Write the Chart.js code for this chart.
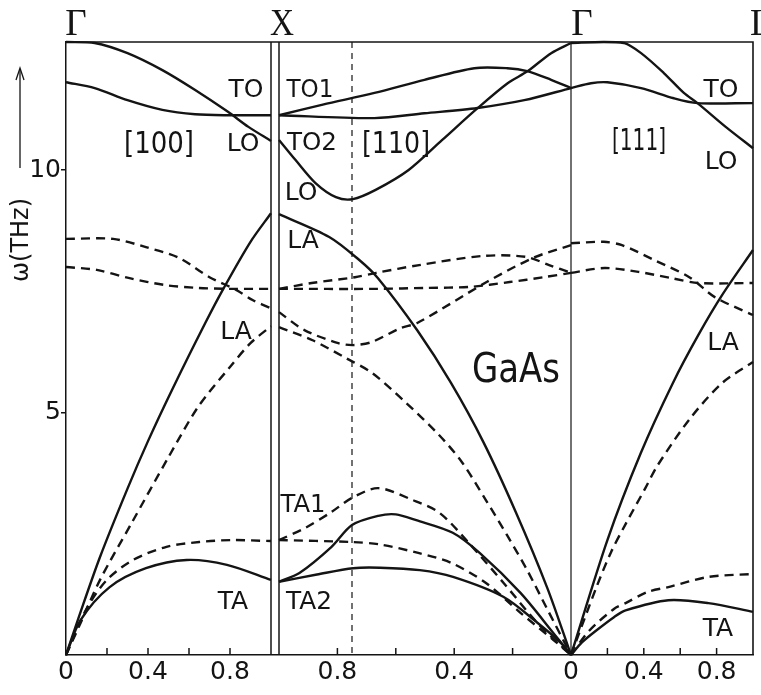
<!DOCTYPE html>
<html>
<head>
<meta charset="utf-8">
<title>GaAs phonon dispersion</title>
<script src="https://cdn.jsdelivr.net/npm/chart.js@4.4.1/dist/chart.umd.min.js"></script>
<style>
  html, body { margin: 0; padding: 0; background: #fff; }
  #wrap { width: 761px; height: 695px; }
</style>
</head>
<body>
<div id="wrap"><canvas id="chart" width="761" height="695"></canvas></div>
<script>
// branches, each point is [zeta, omega in THz]
// solid = one model, dashed = the other

// [100]  Gamma -> X
const g100_LO  = [[0,12.64],[0.14,12.62],[0.30,12.41],[0.47,12.06],[0.63,11.65],[0.79,11.20],[0.89,10.89],[1.0,10.6]];
const g100_TO  = [[0,11.81],[0.14,11.69],[0.30,11.44],[0.47,11.24],[0.63,11.15],[0.79,11.13],[1.0,11.13]];
const g100_LA  = [[0,0],[0.06,0.75],[0.165,2.01],[0.3,3.43],[0.4,4.41],[0.52,5.49],[0.68,6.85],[0.77,7.57],[0.9,8.52],[1.0,9.11]];
const g100_TA  = [[0,0],[0.071,0.72],[0.213,1.40],[0.39,1.79],[0.589,1.96],[0.785,1.86],[1.0,1.55]];
const g100_LOd = [[0,8.58],[0.23,8.58],[0.39,8.41],[0.55,8.19],[0.70,7.79],[0.83,7.53],[0.91,7.32],[1.0,7.15]];
const g100_TOd = [[0,8.0],[0.15,7.94],[0.31,7.77],[0.48,7.63],[0.64,7.57],[0.80,7.55],[1.0,7.55]];
const g100_LAd = [[0,0],[0.07,0.65],[0.166,1.55],[0.32,2.72],[0.5,4.08],[0.645,5.12],[0.80,5.94],[0.90,6.43],[1.0,6.78]];
const g100_TAd = [[0,0],[0.1,0.95],[0.2,1.55],[0.327,1.96],[0.49,2.23],[0.65,2.33],[0.81,2.37],[1.0,2.35]];

// [110]  X -> K -> Gamma (zeta runs from 1 down to 0)
const g110_TO1  = [[1.0,11.13],[0.85,11.35],[0.673,11.59],[0.502,11.86],[0.331,12.10],[0.218,12.10],[0.150,12.04],[0.068,11.86],[0,11.69]];
const g110_TO2  = [[1.0,11.13],[0.673,11.07],[0.502,11.17],[0.32,11.28],[0.16,11.44],[0,11.69]];
const g110_LO   = [[1.0,10.62],[0.944,10.21],[0.875,9.73],[0.805,9.44],[0.747,9.40],[0.669,9.59],[0.556,10.0],[0.441,10.62],[0.319,11.28],[0.217,11.79],[0.148,12.04],[0.068,12.41],[0,12.62]];
const g110_LA   = [[1.0,9.09],[0.828,8.62],[0.728,8.16],[0.661,7.77],[0.526,6.69],[0.411,5.61],[0.30,4.39],[0.19,2.96],[0.081,1.38],[0,0]];
const g110_TA1  = [[1.0,1.51],[0.93,1.69],[0.82,2.23],[0.75,2.68],[0.66,2.87],[0.6,2.9],[0.53,2.78],[0.405,2.52],[0.312,2.10],[0.173,1.28],[0.06,0.45],[0,0]];
const g110_TA2  = [[1.0,1.51],[0.87,1.66],[0.746,1.79],[0.654,1.80],[0.518,1.75],[0.404,1.61],[0.232,1.20],[0.114,0.66],[0.035,0.25],[0,0]];
const g110_TO1d = [[1.0,7.55],[0.888,7.67],[0.74,7.79],[0.667,7.88],[0.52,8.04],[0.30,8.23],[0.155,8.21],[0.075,8.04],[0,7.88]];
const g110_TO2d = [[1.0,7.55],[0.665,7.55],[0.494,7.57],[0.347,7.59],[0.21,7.69],[0.094,7.79],[0,7.88]];
const g110_LOd  = [[1.0,7.07],[0.913,6.70],[0.797,6.43],[0.746,6.39],[0.684,6.45],[0.584,6.74],[0.525,6.85],[0.289,7.69],[0.129,8.19],[0,8.45]];
const g110_LAd  = [[1.0,6.76],[0.885,6.49],[0.77,6.12],[0.68,5.81],[0.565,5.2],[0.454,4.55],[0.374,3.98],[0.29,3.18],[0.22,2.48],[0.151,1.76],[0.08,0.93],[0,0]];
const g110_TA1d = [[1.0,2.37],[0.91,2.62],[0.82,2.95],[0.75,3.24],[0.66,3.44],[0.544,3.2],[0.45,2.93],[0.35,2.31],[0.23,1.48],[0.115,0.66],[0,0]];
const g110_TA2d = [[1.0,2.37],[0.75,2.33],[0.655,2.28],[0.52,2.10],[0.41,1.90],[0.29,1.48],[0.173,0.87],[0.06,0.31],[0,0]];

// [111]  Gamma -> L
const g111_LO  = [[0,12.62],[0.18,12.64],[0.29,12.62],[0.385,12.41],[0.51,12.0],[0.62,11.59],[0.695,11.38],[0.85,10.89],[1.0,10.45]];
const g111_TO  = [[0,11.69],[0.11,11.79],[0.2,11.81],[0.385,11.69],[0.565,11.48],[0.695,11.38],[1.0,11.38]];
const g111_LA  = [[0,0],[0.2,2.37],[0.383,4.16],[0.56,5.61],[0.70,6.6],[0.83,7.42],[1.0,8.35]];
const g111_TA  = [[0,0],[0.06,0.26],[0.137,0.5],[0.236,0.78],[0.30,0.92],[0.535,1.13],[0.755,1.07],[1.0,0.89]];
const g111_LOd = [[0,8.49],[0.18,8.52],[0.28,8.45],[0.46,8.14],[0.65,7.79],[0.79,7.38],[1.0,7.01]];
const g111_TOd = [[0,7.88],[0.185,7.98],[0.37,7.90],[0.553,7.77],[0.70,7.67],[1.0,7.67]];
const g111_LAd = [[0,0],[0.143,1.43],[0.22,2.12],[0.3,2.7],[0.41,3.45],[0.474,3.9],[0.655,4.88],[0.834,5.62],[1.0,6.04]];
const g111_TAd = [[0,0],[0.1,0.5],[0.236,0.95],[0.30,1.07],[0.42,1.30],[0.535,1.40],[0.755,1.61],[1.0,1.67]];

// tick labels along each direction
const ticks100 = [0, 0.4, 0.8];
const ticks110 = [0.8, 0.4, 0];
const ticks111 = [0.4, 0.8];
const minor = [0.2, 0.4, 0.6, 0.8];
const yTicks = [5, 10];
const kZeta = 0.75;

// path coordinate: the three directions laid side by side
const X1 = 205, X2 = 213, G2 = 505, LEN110 = 292, LEN111 = 182, END = 687;
const p100 = z => z * X1;
const p110 = z => X2 + (1 - z) * LEN110;
const p111 = z => G2 + z * LEN111;

function curve(arr, map, dashed) {
  return {
    data: arr.map(([z, w]) => ({ x: map(z), y: w })),
    borderColor: '#141414',
    borderWidth: 2.4,
    borderDash: dashed ? [9, 6] : [],
    pointRadius: 0,
    tension: 0.3,
    fill: false,
    clip: 6
  };
}

const datasets = [
  curve(g100_LO, p100), curve(g100_TO, p100), curve(g100_LA, p100), curve(g100_TA, p100),
  curve(g100_LOd, p100, true), curve(g100_TOd, p100, true), curve(g100_LAd, p100, true), curve(g100_TAd, p100, true),
  curve(g110_TO1, p110), curve(g110_TO2, p110), curve(g110_LO, p110), curve(g110_LA, p110),
  curve(g110_TA1, p110), curve(g110_TA2, p110),
  curve(g110_TO1d, p110, true), curve(g110_TO2d, p110, true), curve(g110_LOd, p110, true),
  curve(g110_LAd, p110, true), curve(g110_TA1d, p110, true), curve(g110_TA2d, p110, true),
  curve(g111_LO, p111), curve(g111_TO, p111), curve(g111_LA, p111), curve(g111_TA, p111),
  curve(g111_LOd, p111, true), curve(g111_TOd, p111, true), curve(g111_LAd, p111, true), curve(g111_TAd, p111, true)
];

// x tick positions and their texts
const xTicks = [];
ticks100.forEach(z => xTicks.push({ value: p100(z), label: String(z) }));
ticks110.forEach(z => xTicks.push({ value: p110(z), label: String(z) }));
ticks111.forEach(z => xTicks.push({ value: p111(z), label: String(z) }));

// branch names etc, anchored in axis units
const notes = [
  { t: 'TO',    x: 180, y: 11.63, w: 35 },
  { t: 'TO1',   x: 244, y: 11.63, w: 47 },
  { t: '[100]', x: 93,  y: 10.52, w: 70, big: true },
  { t: 'LO',    x: 177, y: 10.52, w: 35 },
  { t: 'TO2',   x: 246, y: 10.54, w: 50 },
  { t: '[110]', x: 330, y: 10.52, w: 68, big: true },
  { t: 'LO',    x: 235, y: 9.51,  w: 33 },
  { t: 'LA',    x: 237, y: 8.52,  w: 33 },
  { t: 'LA',    x: 170, y: 6.66,  w: 35 },
  { t: '[111]', x: 573, y: 10.58, w: 54, big: true },
  { t: 'TO',    x: 655, y: 11.63, w: 35 },
  { t: 'LO',    x: 655, y: 10.16, w: 35 },
  { t: 'LA',    x: 657, y: 6.43,  w: 35 },
  { t: 'TA1',   x: 237, y: 3.09,  w: 45 },
  { t: 'TA',    x: 167, y: 1.09,  w: 32 },
  { t: 'TA2',   x: 243, y: 1.09,  w: 46 },
  { t: 'TA',    x: 652, y: 0.52,  w: 33 }
];
const points = [
  { t: 'Γ', x: 10 }, { t: 'X', x: 216 }, { t: 'Γ', x: 516 }, { t: 'L', x: 684, left: true }
];

const decor = {
  id: 'decor',
  afterDatasetsDraw(chart) {
    const { ctx, chartArea: a, scales: { x, y } } = chart;
    ctx.save();
    ctx.strokeStyle = '#141414';
    ctx.fillStyle = '#141414';

    // frame top and right
    ctx.lineWidth = 1.6;
    ctx.beginPath();
    ctx.moveTo(a.left, a.top);
    ctx.lineTo(a.right, a.top);
    ctx.lineTo(a.right, a.bottom);
    ctx.stroke();

    // double line at X, single line at Gamma
    ctx.lineWidth = 1.5;
    [X1, X2].forEach(v => {
      const px = x.getPixelForValue(v);
      ctx.beginPath(); ctx.moveTo(px, a.top); ctx.lineTo(px, a.bottom); ctx.stroke();
    });
    ctx.lineWidth = 1.2;
    const gx = x.getPixelForValue(G2);
    ctx.beginPath(); ctx.moveTo(gx, a.top); ctx.lineTo(gx, a.bottom); ctx.stroke();

    // dashed line at K
    ctx.lineWidth = 1.2;
    ctx.setLineDash([6, 5]);
    const kx = x.getPixelForValue(p110(kZeta));
    ctx.beginPath(); ctx.moveTo(kx, a.top); ctx.lineTo(kx, a.bottom); ctx.stroke();
    ctx.setLineDash([]);

    // small inward ticks every 0.2
    ctx.lineWidth = 1.5;
    const marks = [].concat(minor.map(p100), minor.map(p110), minor.map(p111));
    marks.forEach(v => {
      const px = x.getPixelForValue(v);
      ctx.beginPath(); ctx.moveTo(px, a.bottom); ctx.lineTo(px, a.bottom - 7); ctx.stroke();
    });

    // branch labels
    ctx.textAlign = 'center';
    ctx.textBaseline = 'middle';
    notes.forEach(n => {
      ctx.font = (n.big ? '30px' : '25px') + ' "DejaVu Sans"';
      ctx.fillText(n.t, x.getPixelForValue(n.x), y.getPixelForValue(n.y), n.w);
    });
    ctx.font = '40px "DejaVu Sans"';
    ctx.fillText('GaAs', x.getPixelForValue(450), y.getPixelForValue(5.84), 88);

    // symmetry points above the frame
    ctx.font = '37px "Liberation Serif"';
    ctx.textBaseline = 'alphabetic';
    points.forEach(p => {
      ctx.textAlign = p.left ? 'left' : 'center';
      ctx.fillText(p.t, x.getPixelForValue(p.x), a.top - 7, 24);
    });

    // y axis title with arrow
    ctx.save();
    ctx.translate(a.left - 44, a.top + 198);
    ctx.rotate(-Math.PI / 2);
    ctx.font = '24px "DejaVu Sans"';
    ctx.textAlign = 'center';
    ctx.textBaseline = 'middle';
    ctx.fillText('ω(THz)', 0, 0, 92);
    ctx.restore();
    const ax = a.left - 46;
    ctx.lineWidth = 1.3;
    ctx.beginPath(); ctx.moveTo(ax, a.top + 126); ctx.lineTo(ax, a.top + 28); ctx.stroke();
    ctx.beginPath();
    ctx.moveTo(ax - 4, a.top + 38); ctx.lineTo(ax, a.top + 26); ctx.lineTo(ax + 4, a.top + 38);
    ctx.stroke();

    ctx.restore();
  }
};

new Chart(document.getElementById('chart'), {
  type: 'line',
  data: { datasets },
  options: {
    responsive: false,
    animation: false,
    events: [],
    layout: { padding: { top: 42, right: 8, left: 0, bottom: 0 } },
    plugins: { legend: { display: false }, tooltip: { enabled: false } },
    scales: {
      x: {
        type: 'linear',
        min: 0,
        max: END,
        afterBuildTicks: s => { s.ticks = xTicks.map(t => ({ value: t.value })); },
        afterFit: s => { s.height = 40; },
        ticks: {
          autoSkip: false,
          maxRotation: 0,
          padding: 2,
          color: '#141414',
          font: { family: 'DejaVu Sans', size: 25 },
          callback: (v, i) => xTicks[i].label
        },
        grid: { display: false, drawTicks: false },
        border: { display: true, color: '#141414', width: 1.6 }
      },
      y: {
        min: 0,
        max: 12.64,
        afterBuildTicks: s => { s.ticks = yTicks.map(v => ({ value: v })); },
        afterFit: s => { s.width = 66; },
        ticks: {
          padding: 0,
          color: '#141414',
          font: { family: 'DejaVu Sans', size: 25 }
        },
        grid: { drawOnChartArea: false, drawTicks: true, tickLength: 5, color: '#141414', lineWidth: 1.5 },
        border: { display: true, color: '#141414', width: 1.5 }
      }
    }
  },
  plugins: [decor]
});
</script>
</body>
</html>
